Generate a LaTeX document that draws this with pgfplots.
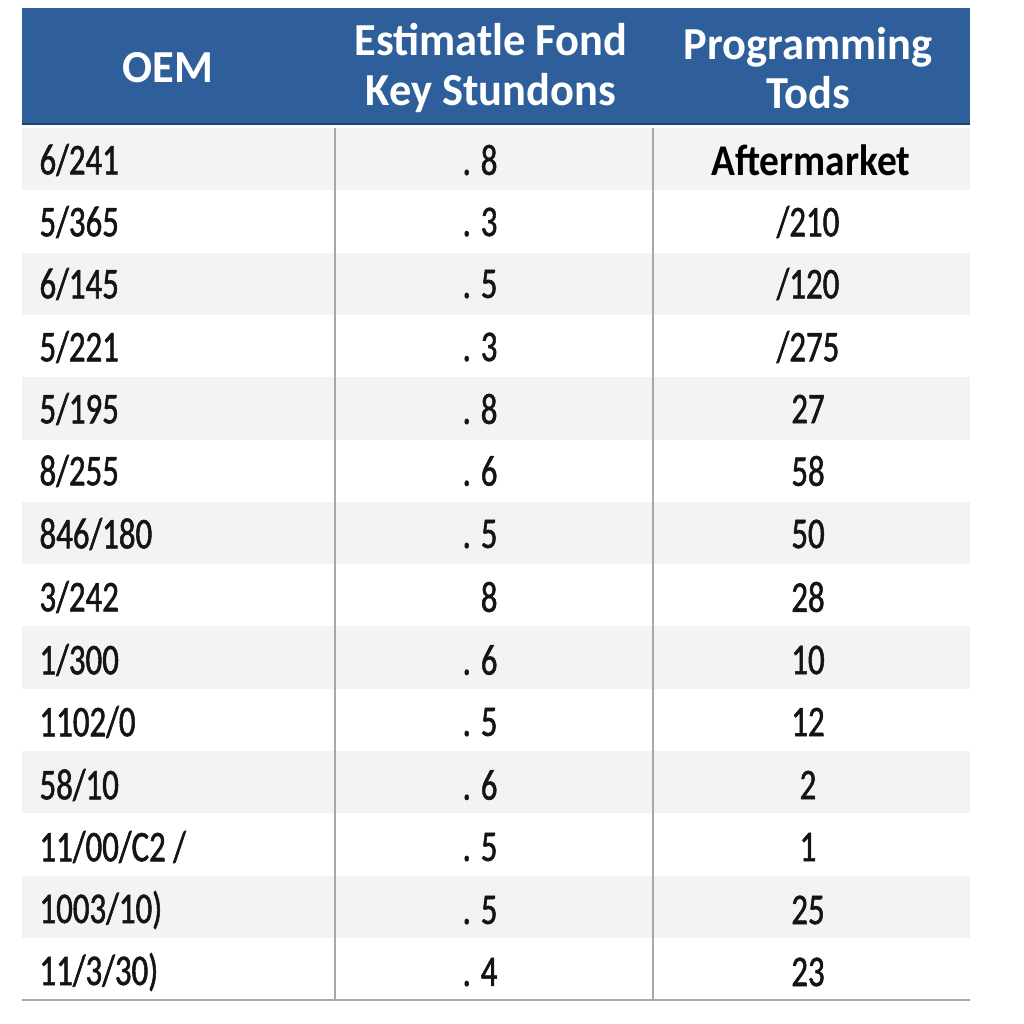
\documentclass[border=0pt]{standalone}
\usepackage{pgfplots}
\pgfplotsset{compat=1.18}
\usepackage{fontspec}
\setmainfont{Carlito}
\newfontfamily\bodyfont{Carlito}[FakeStretch=0.75, FakeBold=1.2]
\newfontfamily\amfont{Carlito}[FakeStretch=0.9]
\newfontfamily\hdrfont{Carlito}[FakeStretch=0.97]
\definecolor{hdr}{HTML}{2E5F9A}
\definecolor{hdrdark}{HTML}{1E446F}
\definecolor{stripe}{HTML}{F1F3F5}
\definecolor{rulec}{HTML}{A8A8A8}
\definecolor{txt}{HTML}{141414}
\tikzset{hfont/.style={font=\hdrfont\bfseries\fontsize{46}{50}\selectfont, align=center}}
\begin{document}
\begin{tikzpicture}
\begin{axis}[scale only axis, width=1024bp, height=1024bp,
  xmin=0, xmax=1024, ymin=0, ymax=1024, y dir=reverse,
  axis lines=none, clip=false]
\path (axis cs:0,0) rectangle (axis cs:1024,1024);
% header band
\fill[hdr] (axis cs:22,8) rectangle (axis cs:970,125);
\draw[hdrdark, line width=2bp] (axis cs:22,124) -- (axis cs:970,124);
% stripes
\pgfplotsinvokeforeach{0,2,4,6,8,10,12}{
  \fill[stripe] (axis cs:22,{128+62.3*#1}) rectangle (axis cs:970,{128+62.3*(#1+1)});
}
% rules
\draw[rulec, line width=2bp] (axis cs:335,128) -- (axis cs:335,1000);
\draw[rulec, line width=2bp] (axis cs:653,128) -- (axis cs:653,1000);
\draw[rulec, line width=2.5bp] (axis cs:22,1000) -- (axis cs:970,1000);
% header text
\node[hfont, text=white] at (axis cs:168,68) {OEM};
\node[hfont, text=white] at (axis cs:491,68) {Estimatle Fond\\Key Stundons};
\node[hfont, text=white] at (axis cs:808,68) {Programming\\Tods};
% column 1 (OEM)
\addplot[draw=none, mark=none, nodes near coords, point meta=explicit symbolic,
  nodes near coords style={anchor=west, text=txt, font=\bodyfont\fontsize{44}{48}\selectfont}]
coordinates {
(36,160)[6/241] (36,222)[5/365] (36,284)[6/145] (36,347)[5/221]
(36,409)[5/195] (36,471)[8/255] (36,534)[846/180] (36,597)[3/242]
(36,660)[1/300] (36,722)[1102/0] (36,785)[58/10] (36,847)[11/00/C2 /]
(36,910)[1003/10)] (36,972)[11/3/30)]
};
% column 2
\addplot[draw=none, mark=none, nodes near coords, point meta=explicit symbolic,
  nodes near coords style={anchor=east, text=txt, font=\bodyfont\fontsize{44}{48}\selectfont}]
coordinates {
(501,160)[. 8] (501,222)[. 3] (501,284)[. 5] (501,347)[. 3]
(501,409)[. 8] (501,471)[. 6] (501,534)[. 5] (501,597)[8]
(501,660)[. 6] (501,722)[. 5] (501,785)[. 6] (501,847)[. 5]
(501,910)[. 5] (501,972)[. 4]
};
% column 3
\addplot[draw=none, mark=none, nodes near coords, point meta=explicit symbolic,
  nodes near coords style={anchor=center, text=txt, font=\bodyfont\fontsize{44}{48}\selectfont}]
coordinates {
(808,222)[/210] (808,284)[/120] (808,347)[/275]
(808,409)[27] (808,471)[58] (808,534)[50] (808,597)[28]
(808,660)[10] (808,722)[12] (808,785)[2] (808,847)[1]
(808,910)[25] (808,972)[23]
};
\addplot[draw=none, mark=none, nodes near coords, point meta=explicit symbolic,
  nodes near coords style={anchor=center, text=black, font=\amfont\bfseries\fontsize{44}{48}\selectfont}]
coordinates {(811,160)[Aftermarket]};
\end{axis}
\end{tikzpicture}
\end{document}
